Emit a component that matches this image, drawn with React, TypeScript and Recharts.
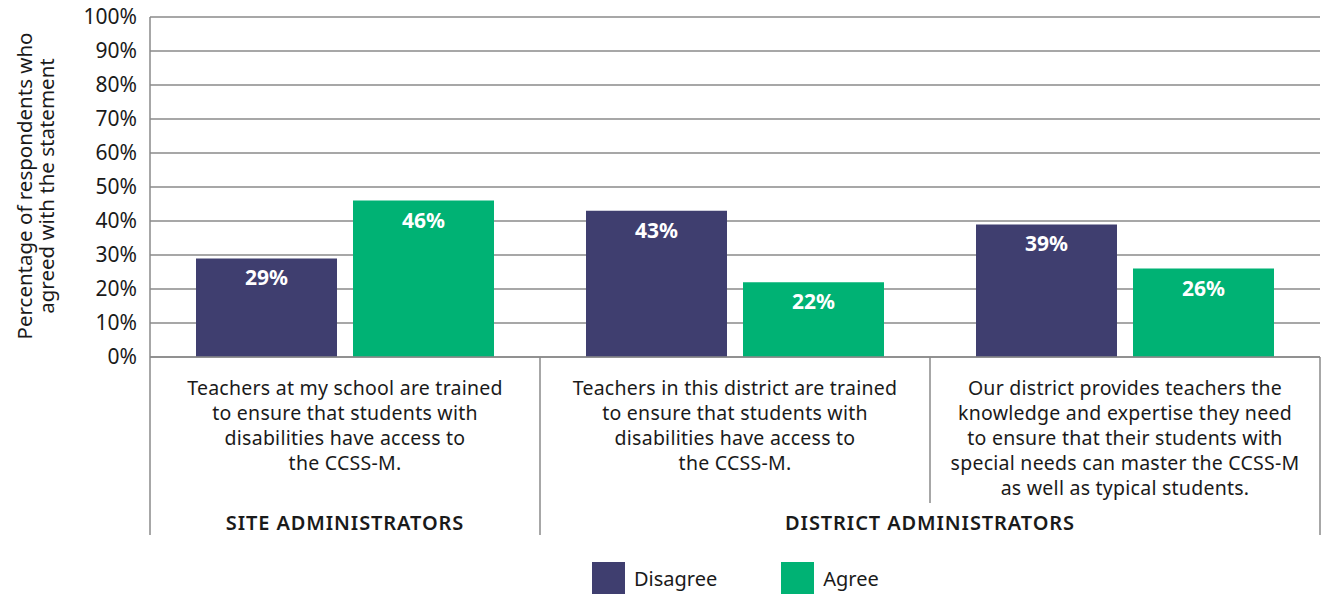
import { Bar, BarChart, CartesianGrid, LabelList, XAxis, YAxis } from "recharts";

const categories = ["site-trained", "district-trained", "district-provides"];
const categoryLines = [
  ["Teachers at my school are trained", "to ensure that students with", "disabilities have access to", "the CCSS-M."],
  ["Teachers in this district are trained", "to ensure that students with", "disabilities have access to", "the CCSS-M."],
  [
    "Our district provides teachers the",
    "knowledge and expertise they need",
    "to ensure that their students with",
    "special needs can master the CCSS-M",
    "as well as typical students.",
  ],
];
const groupLabels = ["SITE ADMINISTRATORS", "DISTRICT ADMINISTRATORS"];
const disagree = [29, 43, 39];
const agree = [46, 22, 26];
const yTicks = [0, 10, 20, 30, 40, 50, 60, 70, 80, 90, 100];

const DISAGREE = "#3f3e6f";
const AGREE = "#00b274";
const GRID = "#8a8a8a";
const FONT = "'Noto Sans', sans-serif";

const data = categories.map((c, i) => ({
  name: c,
  disagree: disagree[i],
  agree: agree[i],
}));

function CategoryTick({ x, y, index }: any) {
  const lines = categoryLines[index] ?? [];
  const half = 195;
  const last = index === categories.length - 1;
  return (
    <g>
      <line
        x1={x - half}
        x2={x - half}
        y1={y - 8}
        y2={index === 2 ? y + 138 : y + 170}
        stroke={GRID}
        strokeWidth={1.5}
      />
      {last && (
        <line x1={x + half} x2={x + half} y1={y - 8} y2={y + 170} stroke={GRID} strokeWidth={1.5} />
      )}
      <text
        x={x}
        y={y + 30}
        textAnchor="middle"
        fontSize={19.5}
        letterSpacing={0.25}
        fill="#1a1a1a"
        fontFamily={FONT}
      >
        {lines.map((l: string, i: number) => (
          <tspan key={i} x={x} dy={i === 0 ? 0 : 25}>
            {l}
          </tspan>
        ))}
      </text>
      {index === 0 && (
        <text x={x} y={y + 165} textAnchor="middle" fontSize={20} fontWeight={600} fill="#1a1a1a" fontFamily={FONT} letterSpacing={0.9}>
          {groupLabels[0]}
        </text>
      )}
      {index === 1 && (
        <text x={x + half} y={y + 165} textAnchor="middle" fontSize={20} fontWeight={600} fill="#1a1a1a" fontFamily={FONT} letterSpacing={0.9}>
          {groupLabels[1]}
        </text>
      )}
    </g>
  );
}

function Legend() {
  const items = [
    { label: "Disagree", color: DISAGREE },
    { label: "Agree", color: AGREE },
  ];
  return (
    <div
      style={{
        position: "absolute",
        left: 592,
        top: 562,
        display: "flex",
        gap: 64,
        fontFamily: FONT,
        fontSize: 20,
        color: "#1a1a1a",
      }}
    >
      {items.map((it) => (
        <div key={it.label} style={{ display: "flex", alignItems: "center", gap: 9 }}>
          <span style={{ width: 33, height: 32, background: it.color, display: "inline-block" }} />
          <span>{it.label}</span>
        </div>
      ))}
    </div>
  );
}

export default function App() {
  return (
    <div style={{ position: "absolute", left: 0, top: 0, width: 1321, height: 594, background: "#fff" }}>
      <div
        style={{
          position: "absolute",
          left: 35,
          top: 186,
          transform: "translate(-50%, -50%) rotate(-90deg)",
          textAlign: "center",
          fontFamily: FONT,
          fontSize: 20.5,
          lineHeight: "22px",
          color: "#1a1a1a",
          whiteSpace: "nowrap",
        }}
      >
        Percentage of respondents who
        <br />
        agreed with the statement
      </div>
      <BarChart
        width={1321}
        height={594}
        data={data}
        margin={{ top: 17, right: 1, left: 0, bottom: 0 }}
        barSize={141}
        barGap={16}
      >
        <CartesianGrid vertical={false} stroke={GRID} strokeWidth={1.5} />
        <XAxis
          dataKey="name"
          height={237}
          tickLine={false}
          axisLine={{ stroke: GRID, strokeWidth: 1.5 }}
          tick={<CategoryTick />}
          interval={0}
        />
        <YAxis
          width={150}
          domain={[0, 100]}
          ticks={yTicks}
          tickFormatter={(v) => `${v}%`}
          tickLine={false}
          axisLine={{ stroke: GRID, strokeWidth: 1.5 }}
          tick={{ fill: "#1a1a1a", fontSize: 21, fontFamily: FONT }}
          tickMargin={7}
        />
        <YAxis
          yAxisId="right"
          orientation="right"
          width={0}
          domain={[0, 100]}
          tick={false}
          tickLine={false}
          axisLine={{ stroke: GRID, strokeWidth: 1.5 }}
        />
        <Bar dataKey="disagree" fill={DISAGREE} isAnimationActive={false}>
          <LabelList
            dataKey="disagree"
            position="insideTop"
            offset={12}
            formatter={(v: any) => `${v}%`}
            style={{ fill: "#fff", fontSize: 21, fontWeight: 700, fontFamily: FONT }}
          />
        </Bar>
        <Bar dataKey="agree" fill={AGREE} isAnimationActive={false}>
          <LabelList
            dataKey="agree"
            position="insideTop"
            offset={12}
            formatter={(v: any) => `${v}%`}
            style={{ fill: "#fff", fontSize: 21, fontWeight: 700, fontFamily: FONT }}
          />
        </Bar>
      </BarChart>
      <Legend />
    </div>
  );
}
